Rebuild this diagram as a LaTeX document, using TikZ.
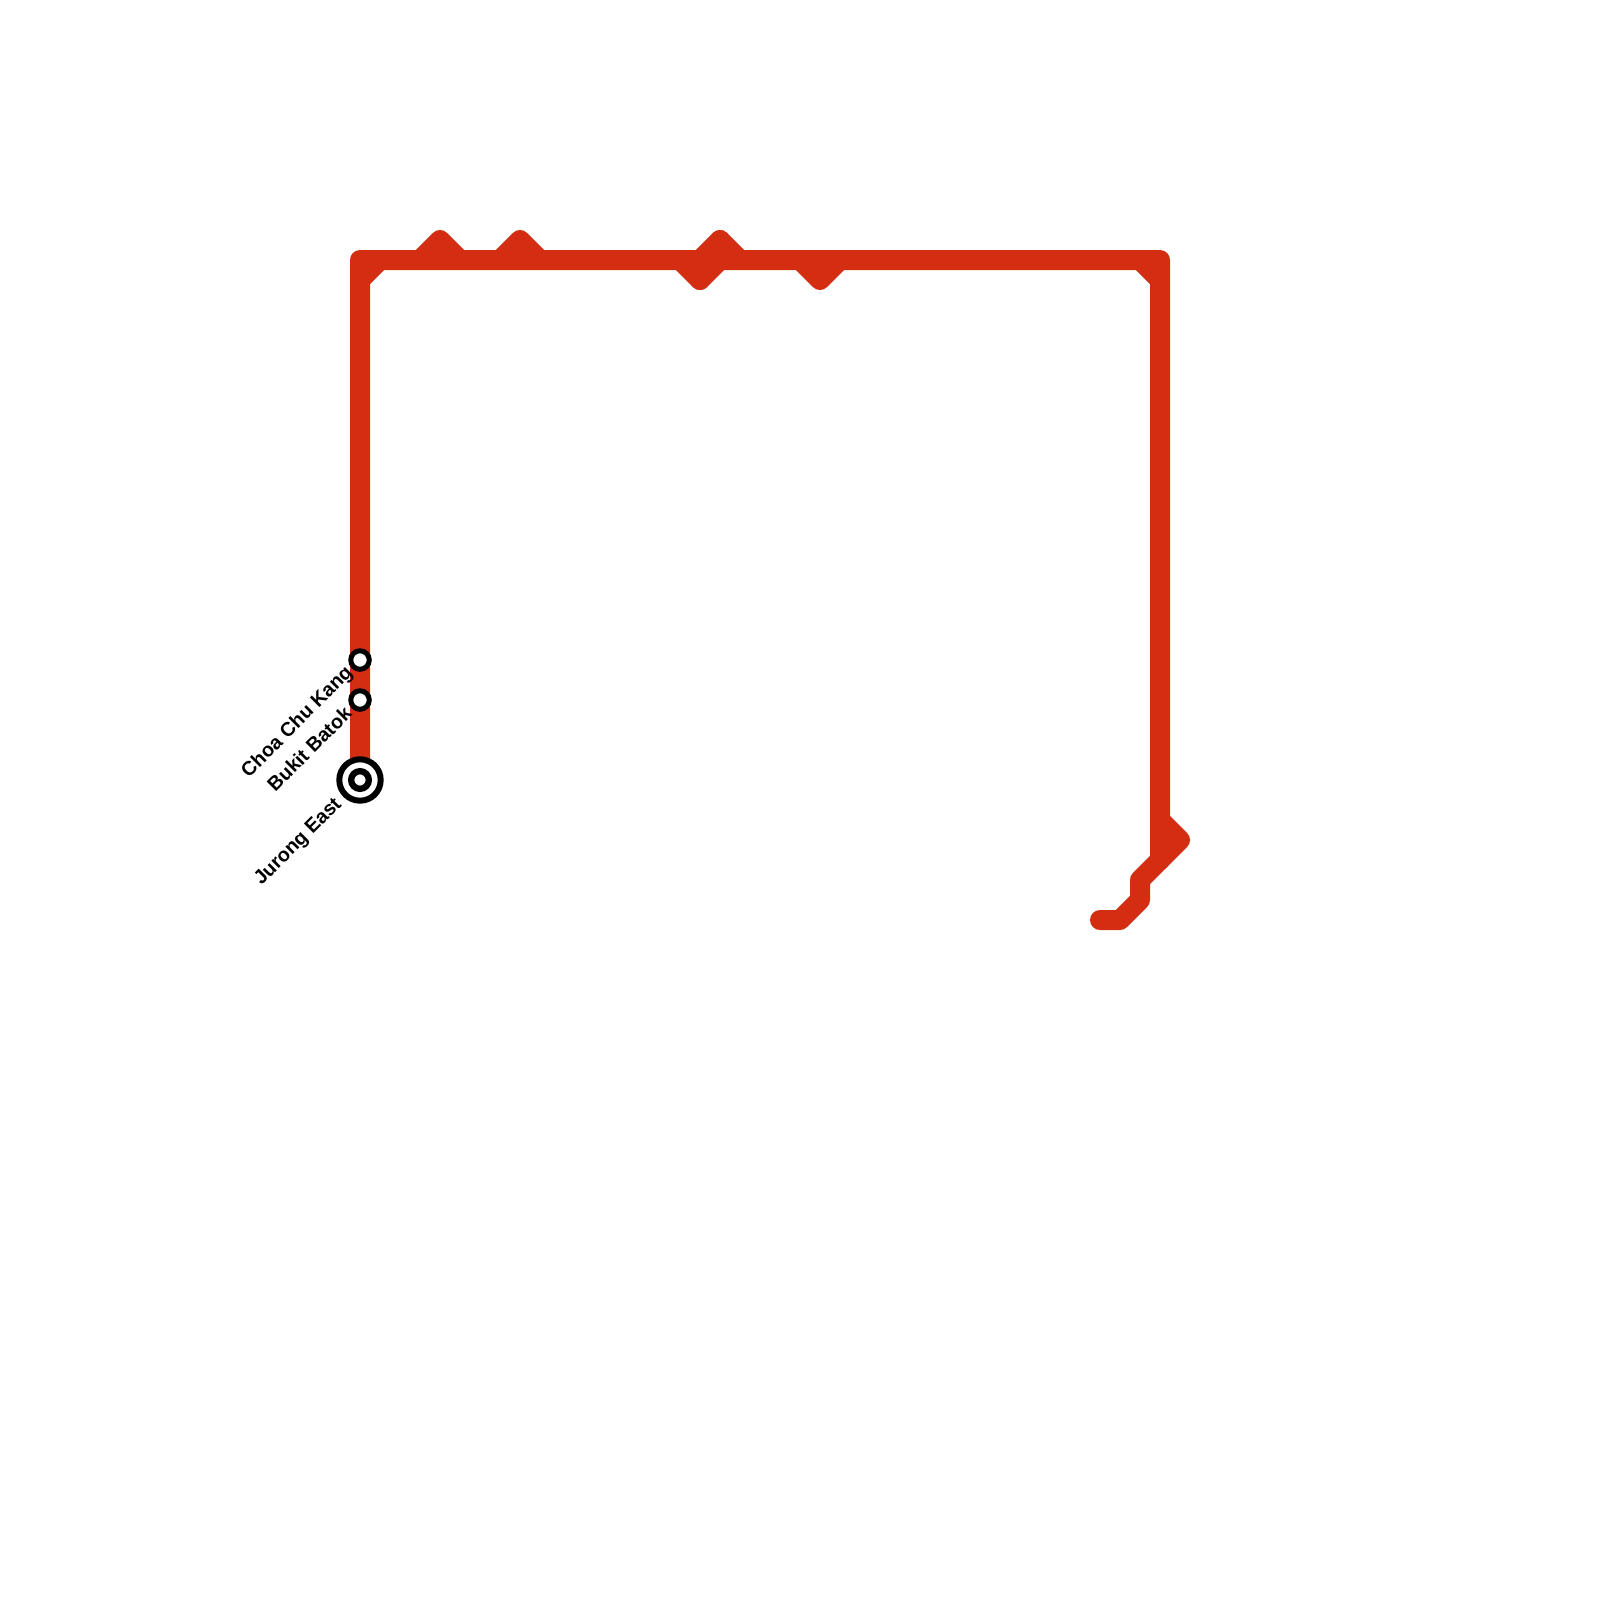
\documentclass[tikz,border=0pt]{standalone}
\usepackage{fontspec}
\setmainfont{Liberation Sans}
\definecolor{lineRed}{HTML}{D42E12}
\tikzset{
  metro/.style={draw=lineRed,line width=20pt,line join=round,line cap=round},
  stopsmall/.style={circle,draw=black,fill=white,line width=5pt,minimum size=18.5pt,inner sep=0pt},
  stopbig/.style={circle,draw=black,fill=white,line width=6pt,minimum size=41.4pt,inner sep=0pt},
  stopinner/.style={circle,draw=black,fill=white,line width=6.3pt,minimum size=17.7pt,inner sep=0pt},
  stoplabel/.style={font=\fontsize{19.7}{22}\selectfont\bfseries,rotate=45,anchor=east,inner sep=0pt,text=black}
}
\begin{document}
\begin{tikzpicture}[x=1pt,y=-1pt]
\useasboundingbox (0,0) rectangle (1600,1600);
\coordinate (a) at (360,780);
\coordinate (tl) at (360,260);
\coordinate (tr) at (1160,260);
\coordinate (br) at (1160,820);
\draw[metro] (a) -- (tl) -- (tr) -- (br) -- (1180,840) -- (1140,880) -- (1140,900) -- (1120,920) -- (1100,920);
\draw[metro] (tl) ++(0,20) -- ++(20,-20);
\draw[metro] (1140,260) -- (1160,280);
\draw[metro] (1160,860) -- (1160,820);
\draw[metro] (420,260) -- (440,240) -- (460,260);
\draw[metro] (500,260) -- (520,240) -- (540,260);
\draw[metro] (680,260) -- (700,280) -- (720,240) -- (740,260);
\draw[metro] (700,260) -- (720,240);
\draw[metro] (720,260) -- (700,280);
\draw[metro] (800,260) -- (820,280) -- (840,260);
\node[stopsmall] (ck) at (360,660) {};
\node[stopsmall] (bb) at (360,700) {};
\node[stopbig] (je) at (360,780) {};
\node[stopinner] (jei) at (360,780) {};
\node[stoplabel] (lck) at (350,670) {Choa Chu Kang};
\node[stoplabel] (lbb) at (348,710) {Bukit Batok};
\node[stoplabel] (lje) at (339,802) {Jurong East};
\end{tikzpicture}
\end{document}
